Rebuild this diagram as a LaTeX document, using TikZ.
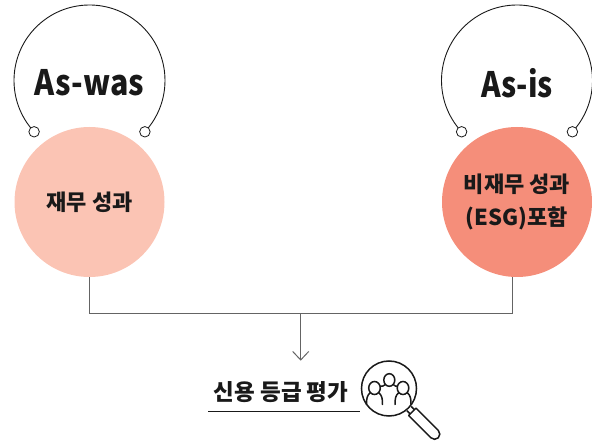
\documentclass[tikz,border=0pt]{standalone}
\usepackage{fontspec}
\setmainfont{Noto Sans CJK KR}
\usetikzlibrary{arrows.meta, positioning}

\definecolor{pinkA}{RGB}{251,196,180}
\definecolor{pinkB}{RGB}{245,142,122}
\definecolor{lineg}{RGB}{100,100,100}

\begin{document}
\begin{tikzpicture}[x=1pt, y=1pt, >={Straight Barb[length=8.5pt,width=16pt]}, semithick]
    \tikzstyle{every node}=[text=black!90]
    \tikzstyle{big}=[shape=circle, draw=none, minimum size=150pt, inner sep=0pt, align=center, font=\fontsize{22}{33}\selectfont\bfseries]
    \tikzstyle{dot}=[shape=circle, draw=black!90, fill=white, minimum size=10.5pt, inner sep=0pt, line width=0.8pt]
    \tikzstyle{ttl}=[font=\fontsize{35}{35}\selectfont\bfseries]
    \tikzstyle{lbl}=[font=\fontsize{22.5}{24}\selectfont\bfseries]
    \tikzstyle{arcl}=[draw=black!90, line width=0.9pt]
    \tikzstyle{conn}=[draw=lineg, line width=1pt]
    \tikzstyle{icon}=[draw=black!90, line width=1.5pt]

    \useasboundingbox (0,0) rectangle (592,442);

    \node[big, fill=pinkA]  (a1) at (89.5,240)  {재무 성과};
    \node[big, fill=pinkB]  (a2) at (517,240)   {비재무 성과\\(ESG)포함};

    % arcs over the circles
    \coordinate (o1) at (89.5,361.5);
    \coordinate (o2) at (517,361.5);
    \draw[arcl] ([shift={(222.8:75.5)}]o1) arc[start angle=222.8, end angle=-42.8, radius=75.5];
    \draw[arcl] ([shift={(222.8:75.5)}]o2) arc[start angle=222.8, end angle=-42.8, radius=75.5];
    \node[dot]  (d1) at ([shift={(222.8:75.5)}]o1) {};
    \node[dot]  (d2) at ([shift={(-42.8:75.5)}]o1) {};
    \node[dot]  (d3) at ([shift={(222.8:75.5)}]o2) {};
    \node[dot]  (d4) at ([shift={(-42.8:75.5)}]o2) {};

    \node[ttl]  (t1) at (89.5,359)  {\scalebox{0.87}[1]{As-was}};
    \node[ttl]  (t2) at (517,359)   {\scalebox{0.85}[1]{As-is}};

    % connectors
    \coordinate (j1) at (300.7,128.7);
    \coordinate (e1) at (300.7,81.3);
    \draw[conn] (a1.south) |- (j1) -| ([xshift=-4.7pt]a2.south);
    \draw[conn, ->] (j1) -- (e1);

    \node[lbl]  (r1) at (281,49.5) {신용 등급 평가};
    \coordinate (u1) at (208,30.3);
    \coordinate (u2) at (360,30.3);
    \draw[line width=1.4pt, black!90] (u1) -- (u2);

    % magnifier
    \node[circle, icon, minimum size=55pt, inner sep=0pt] (m1) at (389,53.5) {};
    \begin{scope}[shift={(m1.center)}, rotate=-45]
        \draw[icon] (28.3,3) -- (33,3) (28.3,-3) -- (33,-3);
        \draw[icon, line join=round] (33,5.2) -- (64.5,5.2) arc[start angle=90, end angle=-90, radius=5.2] -- (33,-5.2) -- cycle;
    \end{scope}
    \begin{scope}[shift={(m1.center)}, icon, line cap=round]
        \draw (0.3,8.5) ellipse[x radius=5.5, y radius=6.3];
        \draw (-14.5,0.5) ellipse[x radius=5.8, y radius=6.5];
        \draw (14,0.5) ellipse[x radius=5.8, y radius=6.5];
        % shoulders
        \draw (-18.8,-4.2) .. controls (-22,-7) and (-22.5,-10) .. (-22.5,-16);
        \draw (-10.2,-4.2) .. controls (-7,-7) and (-6.5,-10) .. (-6.5,-16);
        \draw (9.7,-4.2) .. controls (6.5,-7) and (6,-10) .. (6,-16);
        \draw (18.3,-4.2) .. controls (21.5,-7) and (22,-10) .. (22,-16);
        \draw (-3.8,3.8) .. controls (-5.5,2.5) and (-7,2) .. (-8.4,2.4);
        \draw (4.4,3.8) .. controls (6,2.5) and (7,2) .. (8.1,2.4);
    \end{scope}
\end{tikzpicture}
\end{document}
